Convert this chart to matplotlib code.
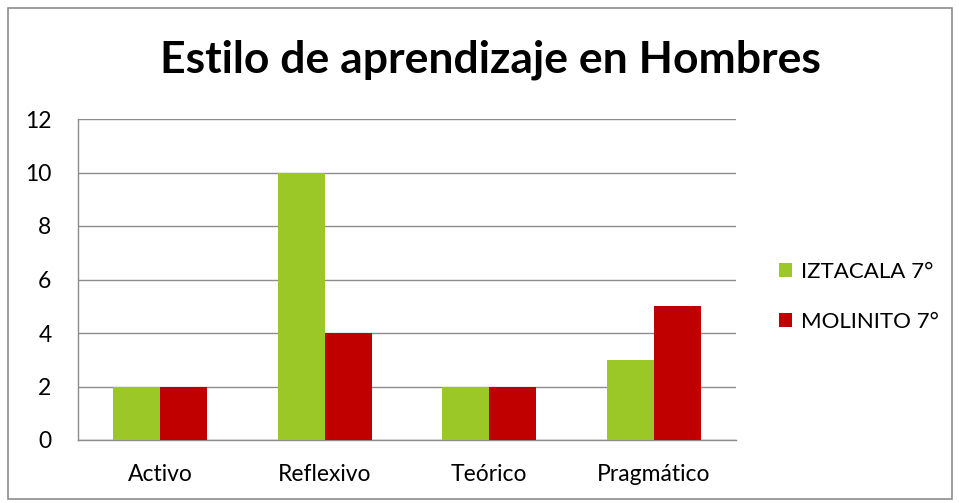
import matplotlib
matplotlib.use("Agg")
import matplotlib.pyplot as plt
import numpy as np
from matplotlib.patches import Rectangle

plt.rcParams["font.family"] = ["Lato", "DejaVu Sans"]

categories = ["Activo", "Reflexivo", "Teórico", "Pragmático"]
series_names = ["IZTACALA 7°", "MOLINITO 7°"]
iztacala = [2, 10, 2, 3]
molinito = [2, 4, 2, 5]
colors = ["#9BC826", "#C00000"]

fig = plt.figure(figsize=(9.59, 5.03), dpi=100)
ax = fig.add_axes([78 / 959, 63 / 503, 658 / 959, 321 / 503])

x = np.arange(len(categories))
w = 0.286
ax.bar(x - w / 2, iztacala, w, color=colors[0], label=series_names[0], zorder=3)
ax.bar(x + w / 2, molinito, w, color=colors[1], label=series_names[1], zorder=3)

ax.set_xlim(-0.5, len(categories) - 0.5)
ax.set_ylim(0, 12)
ax.set_yticks(range(0, 13, 2))
ax.set_xticks(x)
ax.set_xticklabels(categories)
ax.yaxis.grid(True, color="#8C8C8C", linewidth=1.0, zorder=0)
ax.tick_params(axis="both", length=0, labelsize=16.5, colors="black")
ax.tick_params(axis="x", pad=17)
ax.tick_params(axis="y", pad=19)
for s in ["top", "right"]:
    ax.spines[s].set_visible(False)
for s in ["left", "bottom"]:
    ax.spines[s].set_color("#8C8C8C")
    ax.spines[s].set_linewidth(1.0)

fig.text(490 / 959, 1 - 60 / 503, "Estilo de aprendizaje en Hombres",
         ha="center", va="center", fontsize=32, fontweight="bold")

ax.legend(loc="center left", bbox_to_anchor=(1.035, 0.445), frameon=False,
          fontsize=16, handlelength=0.6, handleheight=0.6, labelspacing=1.35,
          handletextpad=0.4)

fig.patches.append(Rectangle((8 / 959, 4 / 503), 944 / 959, 491 / 503,
                             transform=fig.transFigure, fill=False,
                             edgecolor="#8C8C8C", linewidth=1.2))

fig.savefig("out.png", dpi=100)
